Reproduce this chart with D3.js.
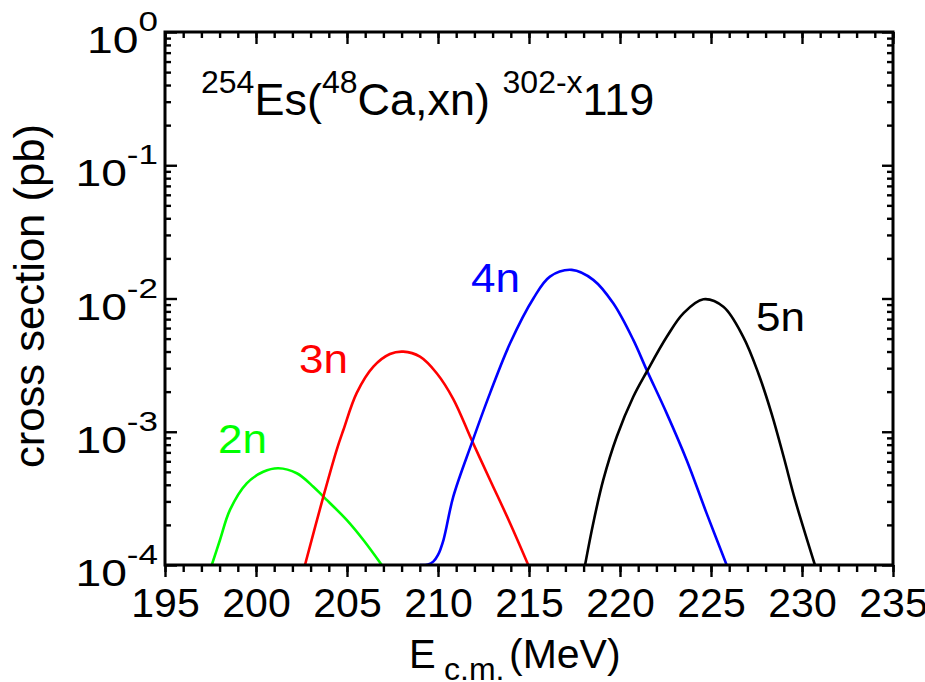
<!DOCTYPE html>
<html>
<head>
<meta charset="utf-8">
<script src="https://cdn.jsdelivr.net/npm/d3@7"></script>
<style>
  html, body { margin: 0; padding: 0; background: #fff; }
  svg { display: block; font-family: "Liberation Sans", Arial, Helvetica, sans-serif; }
</style>
</head>
<body>
<svg id="chart" width="925" height="682"></svg>
<script>
// ---------------- data ----------------
const xTickLabels = [195, 200, 205, 210, 215, 220, 225, 230, 235];
const yTickExponents = [0, -1, -2, -3, -4];

const e2n = [197.57, 198.02, 198.57, 199.49, 200.40, 201.23, 202.24, 203.15, 203.70, 204.98, 205.90, 206.91];
const s2n = [1.0e-4, 1.54e-4, 2.59e-4, 4.10e-4, 5.01e-4, 5.32e-4, 4.88e-4, 3.87e-4, 3.26e-4, 2.18e-4, 1.54e-4, 1.0e-4];

const e3n = [202.69, 203.70, 204.43, 204.80, 205.53, 206.45, 207.36, 208.09, 209.01, 209.93, 210.84, 211.85, 212.86, 213.96, 214.96];
const s3n = [1.0e-4, 3.26e-4, 7.29e-4, 1.03e-3, 1.95e-3, 3.08e-3, 3.83e-3, 3.99e-3, 3.66e-3, 2.75e-3, 1.76e-3, 8.67e-4, 4.35e-4, 2.06e-4, 1.0e-4];

const e4n = [209.01, 209.45, 209.74, 210.00, 210.30, 210.84, 211.85, 212.86, 213.96, 215.24, 216.15, 217.35, 218.53, 219.63, 220.73, 221.47, 222.56, 223.66, 224.76, 225.86];
const s4n = [1.0e-4, 1.01e-4, 1.06e-4, 1.19e-4, 1.54e-4, 3.26e-4, 8.18e-4, 1.95e-3, 4.61e-3, 1.00e-2, 1.46e-2, 1.64e-2, 1.38e-2, 9.20e-3, 4.89e-3, 2.90e-3, 1.38e-3, 6.14e-4, 2.44e-4, 1.0e-4];

const e5n = [218.08, 218.53, 219.08, 219.82, 220.73, 221.47, 222.57, 223.48, 224.58, 225.68, 226.77, 227.60, 228.35, 229.01, 229.62, 230.71];
const s5n = [1.0e-4, 2.06e-4, 4.35e-4, 9.18e-4, 1.83e-3, 2.82e-3, 5.16e-3, 7.74e-3, 9.86e-3, 8.67e-3, 5.16e-3, 2.75e-3, 1.34e-3, 6.35e-4, 3.08e-4, 1.0e-4];

const seriesNames = ["2n", "3n", "4n", "5n"];
const seriesColors = ["#00ff00", "#ff0000", "#0000ff", "#000000"];

// ---------------- layout ----------------
const svg = d3.select("#chart");
const L = 165, R = 893, T = 32, B = 565;
const FONT = '"Liberation Sans", Arial, Helvetica, sans-serif';

const x = d3.scaleLinear().domain([195, 235]).range([L, R]);
const y = d3.scaleLog().domain([1e-4, 1]).range([B, T]);

// clip
svg.append("defs").append("clipPath").attr("id", "plotclip")
  .append("rect").attr("x", L).attr("y", T - 2).attr("width", R - L).attr("height", B - T + 2);

// ---------------- curves ----------------
const series = [
  { name: seriesNames[0], color: seriesColors[0], e: e2n, s: s2n },
  { name: seriesNames[1], color: seriesColors[1], e: e3n, s: s3n },
  { name: seriesNames[2], color: seriesColors[2], e: e4n, s: s4n },
  { name: seriesNames[3], color: seriesColors[3], e: e5n, s: s5n }
];

const line = d3.line()
  .x(d => x(d[0]))
  .y(d => y(d[1]))
  .curve(d3.curveCatmullRom.alpha(0.5));

svg.append("g").attr("clip-path", "url(#plotclip)")
  .selectAll("path").data(series).join("path")
  .attr("d", d => line(d.e.map((v, i) => [v, d.s[i]])))
  .attr("fill", "none")
  .attr("stroke", d => d.color)
  .attr("stroke-width", 2.6)
  .attr("stroke-linejoin", "round");

// ---------------- axes ----------------
const xMinor = d3.range(195, 236, 1);
const yMinor = [];
for (let k = -4; k < 0; k++) for (let m = 2; m <= 9; m++) yMinor.push(m * Math.pow(10, k));
const yMajor = yTickExponents.map(e => Math.pow(10, e));

function styleAxis(g) {
  g.select(".domain").remove();
  g.selectAll("line").attr("stroke", "#000").attr("stroke-width", 2.4);
}

// bottom (ticks pointing outward / down)
svg.append("g").attr("transform", `translate(0,${B})`)
  .call(d3.axisBottom(x).tickValues(xMinor).tickSize(7).tickFormat(""))
  .call(styleAxis);
const gxb = svg.append("g").attr("transform", `translate(0,${B})`)
  .call(d3.axisBottom(x).tickValues(xTickLabels).tickSize(12).tickPadding(0).tickFormat(d3.format("d")))
  .call(styleAxis);
gxb.selectAll("text")
  .attr("y", 52).attr("dy", 0)
  .attr("font-size", 41).attr("font-family", FONT).attr("fill", "#000");

// top (ticks inward / down)
svg.append("g").attr("transform", `translate(0,${T})`)
  .call(d3.axisTop(x).tickValues(xMinor).tickSize(-6).tickFormat(""))
  .call(styleAxis);
svg.append("g").attr("transform", `translate(0,${T})`)
  .call(d3.axisTop(x).tickValues(xTickLabels).tickSize(-12).tickFormat(""))
  .call(styleAxis);

// left (ticks inward / right)
svg.append("g").attr("transform", `translate(${L},0)`)
  .call(d3.axisLeft(y).tickValues(yMinor).tickSize(-6).tickFormat(""))
  .call(styleAxis);
svg.append("g").attr("transform", `translate(${L},0)`)
  .call(d3.axisLeft(y).tickValues(yMajor).tickSize(-12).tickFormat(""))
  .call(styleAxis);

// right (ticks inward / left)
svg.append("g").attr("transform", `translate(${R},0)`)
  .call(d3.axisRight(y).tickValues(yMinor).tickSize(-6).tickFormat(""))
  .call(styleAxis);
svg.append("g").attr("transform", `translate(${R},0)`)
  .call(d3.axisRight(y).tickValues(yMajor).tickSize(-11).tickFormat(""))
  .call(styleAxis);

// frame
svg.append("rect")
  .attr("x", L).attr("y", T).attr("width", R - L).attr("height", B - T)
  .attr("fill", "none").attr("stroke", "#000").attr("stroke-width", 3);

// y tick labels 10^k
const yl = svg.append("g");
yTickExponents.forEach(e => {
  const g = yl.append("g").attr("transform", `translate(158,${y(Math.pow(10, e))}) scale(1.25,1)`);
  const t = g.append("text").attr("x", 0).attr("y", 0).attr("text-anchor", "end")
    .attr("font-family", FONT).attr("fill", "#000");
  t.append("tspan").attr("dy", 21).attr("font-size", 37).text("10");
  t.append("tspan").attr("dy", -22).attr("font-size", 28).text(String(e));
});

// ---------------- texts ----------------
// title
const title = svg.append("text").attr("x", 201).attr("y", 115)
  .attr("font-family", FONT).attr("fill", "#000").attr("font-size", 45)
  .attr("xml:space", "preserve");
const titleParts = [
  ["254", true], ["Es(", false], ["48", true], ["Ca,xn) ", false], ["302-x", true], ["119", false]
];
titleParts.forEach(([txt, sup]) => {
  title.append("tspan")
    .attr("y", sup ? 93 : 115)
    .attr("font-size", sup ? 32 : 45)
    .text(txt);
});

// curve labels
const labelPos = [[218, 453], [299, 373], [471, 292], [756, 331]];
series.forEach((s, i) => {
  svg.append("text")
    .attr("transform", `translate(${labelPos[i][0]},${labelPos[i][1]}) scale(1.1,1)`)
    .attr("font-family", FONT).attr("font-size", 40).attr("fill", s.color)
    .text(s.name);
});

// x axis title
const xt = svg.append("text").attr("y", 668)
  .attr("font-family", FONT).attr("fill", "#000");
xt.append("tspan").attr("x", 409).attr("y", 668).attr("font-size", 40).text("E");
xt.append("tspan").attr("x", 444).attr("y", 680).attr("font-size", 32).text("c.m.");
xt.append("tspan").attr("x", 509).attr("y", 668).attr("font-size", 41).text("(MeV)");

// y axis title
svg.append("text")
  .attr("transform", "translate(44,296) rotate(-90)")
  .attr("text-anchor", "middle")
  .attr("font-family", FONT).attr("font-size", 42).attr("fill", "#000")
  .attr("textLength", 344).attr("lengthAdjust", "spacingAndGlyphs")
  .text("cross section (pb)");
</script>
</body>
</html>
